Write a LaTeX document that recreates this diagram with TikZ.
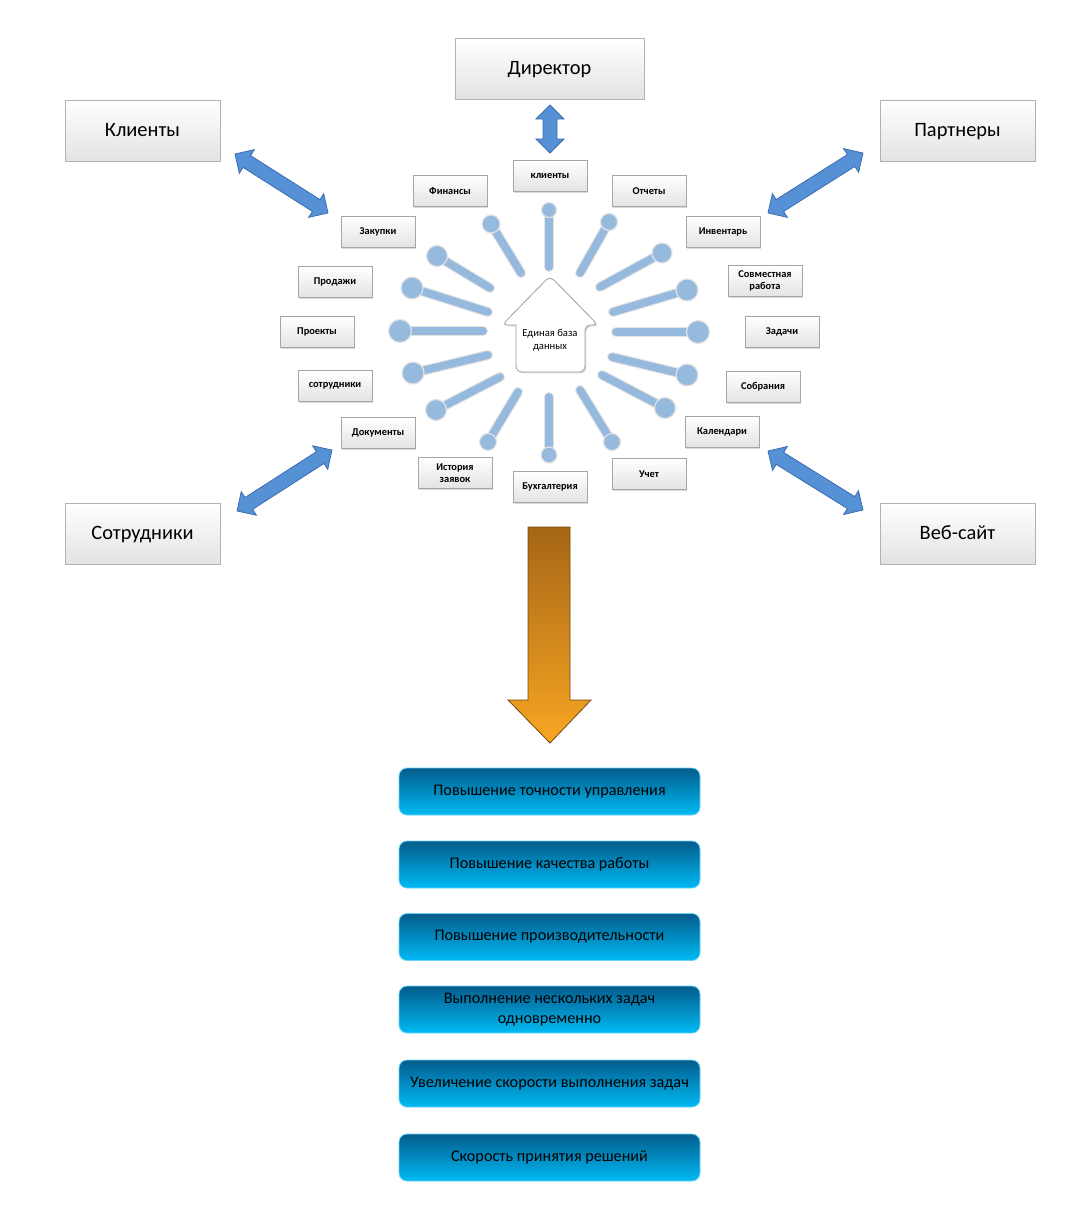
\documentclass[tikz,border=0pt]{standalone}
\usepackage{fontspec}
\setmainfont{Carlito}
\usetikzlibrary{calc,positioning,shapes.arrows,shadows}

\definecolor{pinblue}{RGB}{150,185,222}
\definecolor{arrowblue}{RGB}{86,145,214}
\definecolor{arrowedge}{RGB}{58,108,178}
\definecolor{listtop}{RGB}{4,92,140}
\definecolor{listbot}{RGB}{0,186,244}
\definecolor{orangetop}{RGB}{166,102,22}
\definecolor{orangebot}{RGB}{248,166,34}

\tikzset{
    boxshadow/.style={drop shadow={shadow xshift=0.7pt, shadow yshift=-0.7pt, opacity=0.3}},
    bigbox/.style={draw=gray!60, top color=white, bottom color=gray!22, boxshadow,
        minimum width=77.5pt, minimum height=30.5pt, text height=7pt, text depth=1.5pt,
        font=\fontsize{10.2}{12}\selectfont},
    smallbox/.style={draw=gray!70, top color=white, bottom color=gray!22, boxshadow,
        minimum width=37pt, minimum height=15.5pt, inner sep=1pt, align=center,
        font=\fontsize{5.2}{6.2}\selectfont\bfseries},
    listbox/.style={draw=listbot!60, rounded corners=4pt, top color=listtop, bottom color=listbot,
        minimum width=150.5pt, minimum height=23.5pt, align=center,
        font=\fontsize{8.1}{10}\selectfont},
    fatarrow/.style={double arrow, draw=arrowedge, fill=arrowblue, inner xsep=0pt, inner ysep=3.2pt,
        minimum width=14pt, double arrow head extend=3.4pt},
}

% double arrow from one coordinate to another
\newcommand{\fatlink}[2]{%
    \path let \p1=($(#2)-(#1)$), \n1={atan2(\y1,\x1)}, \n2={veclen(\x1,\y1)} in
        node[fatarrow, rotate=\n1, minimum height=\n2] at ($(#1)!0.5!(#2)$) {};}

\begin{document}
\begin{tikzpicture}[x=0.5pt, y=-0.5pt]
    \useasboundingbox (0,0) rectangle (1080,1211);

    % outer boxes
    \node[bigbox, minimum width=94.5pt] (director) at (549.5,68.5) {Директор};
    \node[bigbox] (klienty) at (142.5,130.5) {Клиенты};
    \node[bigbox] (partnery) at (957.5,130.5) {Партнеры};
    \node[bigbox] (sotrudniki) at (142.5,533.5) {Сотрудники};
    \node[bigbox] (vebsajt) at (957.5,533.5) {Веб-сайт};

    % pins round the base
    \foreach \bx/\by/\ix/\iy/\r in
    {549/210/549/267/7.5,   609/222/580/273/8.5,   662/253/600/287/10,
     687/290/613/312/11,    698/332/616/332/11.5,  687/375/612/357/11,
     665/408/602/375/10.5,  612/442/580/390/8.5,   549/455/549/397/8,
     488/442/518/392/8.5,   436/410/500/377/10.5,  413/373/488/355/11,
     400/331/483/331/11.5,  412/288/488/312/11,    437/256/490/288/10.5,
     491/224/521/273/9}
    {
        \draw[line width=5pt, line cap=round, gray!22] (\ix,\iy) -- (\bx,\by);
        \draw[line width=3.9pt, line cap=round, pinblue] (\ix,\iy) -- (\bx,\by);
        \filldraw[fill=pinblue, draw=gray!22, line width=0.6pt] (\bx,\by) circle (\r*0.5pt);
    };

    % central base
    \draw[gray!75, fill=white, boxshadow, rounded corners=2.5pt]
        (550,276) -- (598,325) -- (585,325) [rounded corners=0pt] -- (585,340)
        [rounded corners=3pt] -- (585,372) -- (516,372) -- (516,340)
        [rounded corners=0pt] -- (516,325) [rounded corners=2.5pt] -- (502,325) -- cycle;
    \node[align=center, font=\fontsize{5.3}{6.5}\selectfont] (baza) at (550,340) {Единая база\\данных};

    % inner labels
    \foreach \n/\x/\y/\t in
    {sKlienty/550/176/клиенты,
     sFinansy/450/191/Финансы,
     sOtchety/649/191/Отчеты,
     sZakupki/378/232/Закупки,
     sInventar/723/232/Инвентарь,
     sProdazhi/335/282/Продажи,
     sSovm/765/281/{Совместная\\работа},
     sProekty/317/332/Проекты,
     sZadachi/782/332/Задачи,
     sSotr/335/386/сотрудники,
     sSobr/763/387/Собрания,
     sDokum/378/433/Документы,
     sKalend/722/432/Календари,
     sIstor/455/473/{История\\заявок},
     sBuhg/550/487/Бухгалтерия,
     sUchet/649/474/Учет}
    {
        \node[smallbox] (\n) at (\x,\y) {\t};
    };

    % ends of the blue arrows
    \coordinate (dirA) at (550,105);
    \coordinate (dirB) at (550,153);
    \coordinate (kliA) at (235,154);
    \coordinate (kliB) at (328,213);
    \coordinate (parA) at (863,153);
    \coordinate (parB) at (768,213);
    \coordinate (sotA) at (237,511);
    \coordinate (sotB) at (332,450);
    \coordinate (vebA) at (863,510);
    \coordinate (vebB) at (768,451);

    \fatlink{dirA}{dirB}
    \fatlink{kliA}{kliB}
    \fatlink{parA}{parB}
    \fatlink{sotA}{sotB}
    \fatlink{vebA}{vebB}

    % big arrow down
    \shade[top color=orangetop, bottom color=orangebot, draw=orangetop!70!black, thin]
        (528,527) -- (570,527) -- (570,700) -- (591,700) -- (550,743)
        -- (508,700) -- (528,700) -- cycle;

    % results
    \node[listbox] (r1) at (549.5,791.5) {Повышение точности управления};
    \node[listbox] (r2) at (549.5,864.5) {Повышение качества работы};
    \node[listbox] (r3) at (549.5,937) {Повышение производительности};
    \node[listbox] (r4) at (549.5,1009.5) {Выполнение нескольких задач\\одновременно};
    \node[listbox] (r5) at (549.5,1083.5) {Увеличение скорости выполнения задач};
    \node[listbox] (r6) at (549.5,1157.5) {Скорость принятия решений};

\end{tikzpicture}
\end{document}
